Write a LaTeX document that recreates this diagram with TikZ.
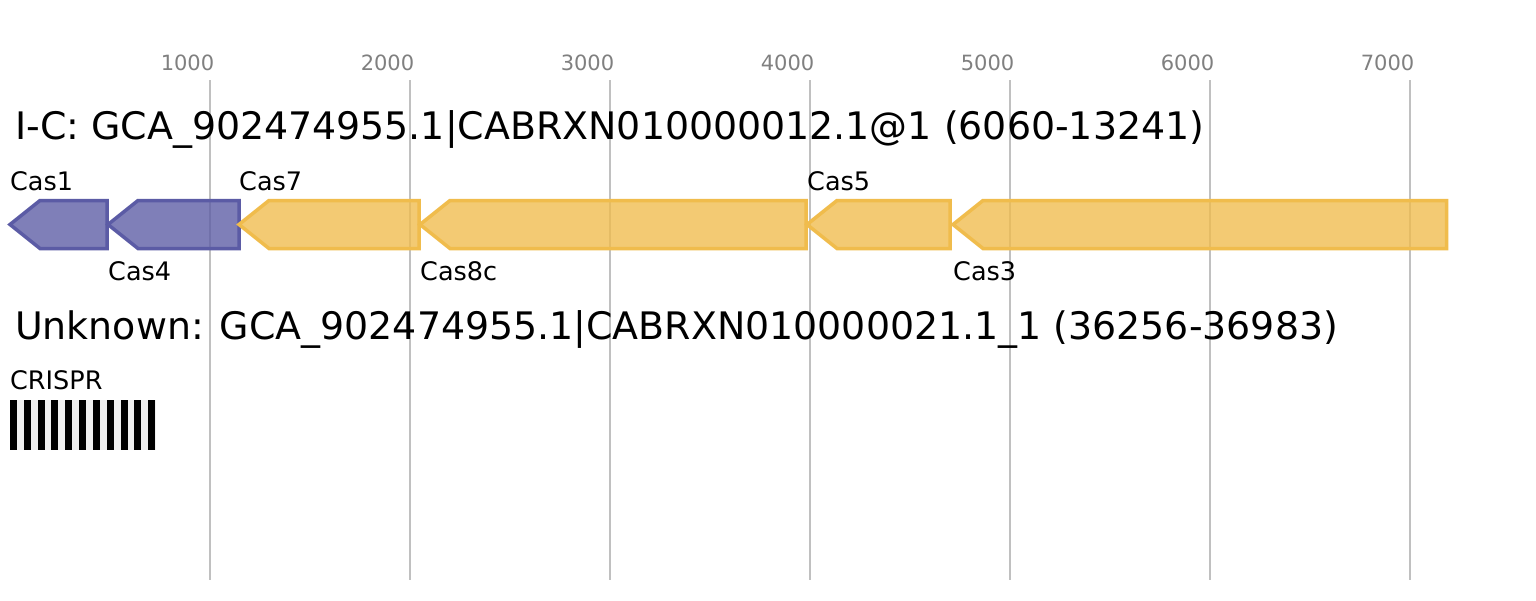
\documentclass[tikz,border=0pt]{standalone}
\usepackage{fontspec}
\setmainfont{DejaVu Sans}
\definecolor{casblue}{HTML}{5B5BA5}
\definecolor{casyellow}{HTML}{F0BC4C}
\definecolor{gridgray}{HTML}{C0C0C0}
\definecolor{tickgray}{HTML}{808080}
\definecolor{crisprbg}{HTML}{F0F0F0}

\begin{document}
\begin{tikzpicture}[x=1pt, y=-1pt,
    gridline/.style={draw=gridgray, line width=2pt},
    ticklabel/.style={text=tickgray, font=\fontsize{21}{24}\selectfont, inner sep=0pt, anchor=base},
    title/.style={font=\fontsize{37.9}{44}\selectfont, inner sep=0pt, anchor=base west},
    genelabel/.style={font=\fontsize{25.5}{30}\selectfont, inner sep=0pt, anchor=base west},
    gene/.style={draw=#1, fill=#1, fill opacity=0.78, line width=3.5pt, line join=miter}]

    \useasboundingbox[fill=white] (0,0) rectangle (1536,600);

    %define the grid and the scale
    \foreach \k in {1,...,7} {
        \coordinate (top\k) at (10+200*\k,80);
        \coordinate (bot\k) at (10+200*\k,580);
        \draw[gridline] (top\k) -- (bot\k);
        \node[ticklabel] (tick\k) at (-12.5+200*\k,70.7) {\k000};
    }

    %define the first locus
    \node[title] (locus1) at (15,139.3) {I-C: GCA\_902474955.1|CABRXN010000012.1@1 (6060-13241)};
    \foreach \tip/\stop/\col/\name/\lab/\ypos in {
        10/107/casblue/cas1/Cas1/190,
        108/239/casblue/cas4/Cas4/280,
        239/419/casyellow/cas7/Cas7/190,
        420/806/casyellow/cas8c/Cas8c/280,
        807/950/casyellow/cas5/Cas5/190,
        953/1446.5/casyellow/cas3/Cas3/280} {
        \draw[gene=\col] (\tip,224.5) -- (\tip+30,200.5) -- (\stop,200.5)
            -- (\stop,248.5) -- (\tip+30,248.5) -- cycle;
        \node[genelabel] (\name) at (\tip,\ypos) {\lab};
    }

    %define the second locus
    \node[title] (locus2) at (15,339) {Unknown: GCA\_902474955.1|CABRXN010000021.1\_1 (36256-36983)};
    \node[genelabel] (crispr) at (10,389.3) {CRISPR};
    \fill[crisprbg] (10,400) rectangle (155.7,450);
    \foreach \i in {0,...,10}
        \fill[black] (10+13.83*\i,400) rectangle ++(6.9,50);
\end{tikzpicture}
\end{document}
